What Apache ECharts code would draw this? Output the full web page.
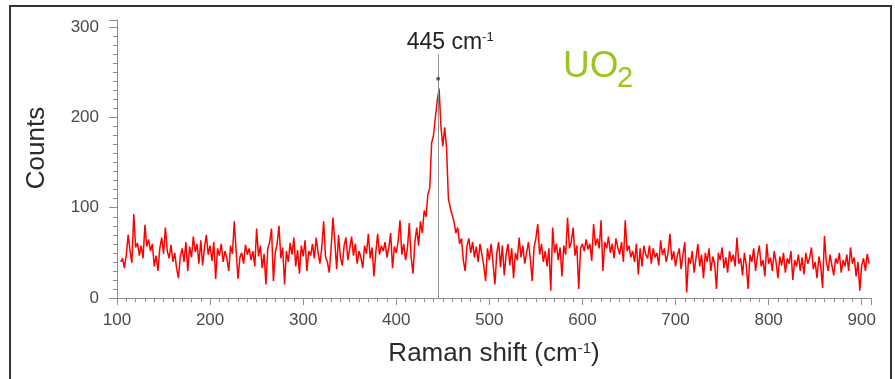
<!DOCTYPE html>
<html>
<head>
<meta charset="utf-8">
<script src="https://cdn.jsdelivr.net/npm/echarts@6/dist/echarts.min.js"></script>
<style>
html,body{margin:0;padding:0;background:#fff;}
#chart{width:895px;height:379px;}
</style>
</head>
<body>
<div id="chart"></div>
<script>
// Raman spectrum sampled every 2 cm-1 starting at 104 cm-1
const shiftStart = 104;
const shiftStep = 2;
const counts = [
  40,44,33,48,70, 52,39,93,56,61, 47,58,44,81,57, 65,52,60,35,47, 30,55,67,49,78,
  52,44,59,40,50, 33,22,46,55,40, 62,30,57,45,68, 51,60,38,64,36, 56,70,48,58,41,
  62,21,55,47,60, 40,52,44,30,58, 49,85,52,21,45, 50,38,59,48,55, 42,52,35,77,46,
  58,33,49,15,55, 62,77,19,50,60, 80,44,56,15,52, 40,61,48,67,35, 53,27,58,46,64,
  30,52,47,60,44, 67,50,38,56,85, 46,40,28,55,89, 62,32,70,45,36, 58,67,42,55,68,
  47,60,38,52,45, 33,58,49,71,44, 56,24,50,71,48, 58,52,62,45,56, 72,33,57,50,63,
  86,48,60,42,55, 83,45,27,62,78, 58,85,72,97,90, 115,122,172,180,200, 218,232,190,168,189,
  167,110,100,92,85, 72,78,60,66,42, 30,58,66,50,62, 45,57,40,60,48, 36,19,55,42,60,
  38,15,50,62,34, 58,25,48,60,36, 55,22,50,42,67, 45,58,38,50,62, 44,19,56,66,82,
  48,60,40,52,35, 55,8,78,50,60, 42,56,24,58,48, 89,55,62,78,47, 58,10,55,60,52,
  65,54,60,41,82, 58,66,55,86,30, 62,55,68,50,60, 44,66,56,48,62, 40,86,52,58,45,
  52,40,60,26,55, 35,58,48,44,58, 38,55,45,50,36, 64,48,55,40,50, 71,42,52,35,47,
  55,32,48,62,6, 45,38,52,28,44, 60,35,48,22,50, 40,55,30,46,38, 10,50,42,56,33,
  45,28,52,40,48, 35,67,38,44,25, 50,36,10,48,40, 55,30,46,58,35, 42,24,60,38,45,
  30,52,40,22,46, 36,50,28,44,38, 52,20,42,35,48, 30,45,26,50,38, 44,56,32,40,22,
  46,35,11,69,40, 30,48,36,25,44, 38,50,28,42,35, 48,30,56,38,45, 24,40,8,36,44,
  30,49,38
];
const peakShift = 445;
const peakDot = 243;
const peakLineTop = 270;
const peakLabelAt = 283;
const xTicks = [100,200,300,400,500,600,700,800,900];
const yTicks = [0,100,200,300];

const spectrum = counts.map((c, i) => [shiftStart + i * shiftStep, c]);

const chart = echarts.init(document.getElementById('chart'), null, {renderer:'canvas'});
const axisGrey = '#8c8c8c';
const labelGrey = '#4a4a4a';
chart.setOption({
  animation: false,
  backgroundColor: '#fff',
  grid: {left: 117, right: 24, top: 20, bottom: 81, containLabel: false},
  xAxis: {
    type: 'value', min: 100, max: 910, interval: 100,
    axisLine: {show: true, lineStyle: {color: axisGrey, width: 1}},
    axisTick: {show: true, length: 7, lineStyle: {color: axisGrey}},
    minorTick: {show: true, splitNumber: 10, length: 4, lineStyle: {color: axisGrey}},
    splitLine: {show: false},
    axisLabel: {
      color: labelGrey, fontSize: 17, fontFamily: 'Liberation Sans', margin: 14,
      showMaxLabel: false,
      formatter: v => xTicks.indexOf(v) >= 0 ? String(v) : ''
    },
    name: '{a|Raman shift (cm}{s|-1}{a|)}',
    nameLocation: 'middle', nameGap: 43,
    nameTextStyle: {
      rich: {
        a: {fontSize: 26, fontFamily: 'Liberation Sans', color: '#2b2b2b'},
        s: {fontSize: 15, fontFamily: 'Liberation Sans', color: '#2b2b2b', verticalAlign: 'top'}
      }
    }
  },
  yAxis: {
    type: 'value', min: 0, max: 308, interval: 100,
    axisLine: {show: true, lineStyle: {color: axisGrey, width: 1}},
    axisTick: {show: true, length: 8, lineStyle: {color: axisGrey}},
    minorTick: {show: true, splitNumber: 10, length: 4, lineStyle: {color: axisGrey}},
    splitLine: {show: false},
    axisLabel: {
      color: labelGrey, fontSize: 17, fontFamily: 'Liberation Sans', margin: 18,
      showMaxLabel: false,
      formatter: v => yTicks.indexOf(v) >= 0 ? String(v) : ''
    }
  },
  series: [
    {
      type: 'line', data: spectrum, showSymbol: false, symbol: 'none',
      lineStyle: {color: '#ff0000', width: 1.5}, z: 3,
      markLine: {
        silent: true, symbol: ['none','none'],
        lineStyle: {color: '#8f8f8f', width: 1, type: 'solid'},
        label: {show: false},
        data: [[{coord: [peakShift, 0]}, {coord: [peakShift, peakLineTop]}]]
      }
    },
    {
      type: 'scatter', data: [[peakShift, peakDot]], symbolSize: 4,
      itemStyle: {color: '#2c4a3a'}, z: 5, silent: true
    },
    {
      type: 'scatter', data: [[peakShift, peakLabelAt]], symbolSize: 1,
      itemStyle: {color: 'rgba(0,0,0,0)', opacity: 1}, silent: true,
      label: {
        show: true, position: 'inside', offset: [12, 0], color: '#222',
        formatter: '{a|' + peakShift + ' cm}{s|-1}',
        rich: {
          a: {fontSize: 23, fontFamily: 'Liberation Sans', color: '#222'},
          s: {fontSize: 13, fontFamily: 'Liberation Sans', color: '#222', verticalAlign: 'top'}
        }
      }
    }
  ],
  graphic: [
    {type: 'rect', shape: {x: 10, y: 6, width: 881, height: 400}, style: {fill: 'none', stroke: '#333', lineWidth: 2}, silent: true},
    {type: 'text', x: 37, y: 148, rotation: Math.PI / 2,
     style: {text: 'Counts', fontSize: 26, fontFamily: 'Liberation Sans', fill: '#2b2b2b', align: 'center', verticalAlign: 'middle'}},
    {type: 'text', x: 563, y: 67,
     style: {text: 'UO', fontSize: 37, fontFamily: '"Liberation Sans Narrow", "Liberation Sans"', fill: '#9cc41e', align: 'left', verticalAlign: 'middle'}},
    {type: 'text', x: 617, y: 79,
     style: {text: '2', fontSize: 29, fontFamily: '"Liberation Sans Narrow", "Liberation Sans"', fill: '#9cc41e', align: 'left', verticalAlign: 'middle'}}
  ]
});
</script>
</body>
</html>
